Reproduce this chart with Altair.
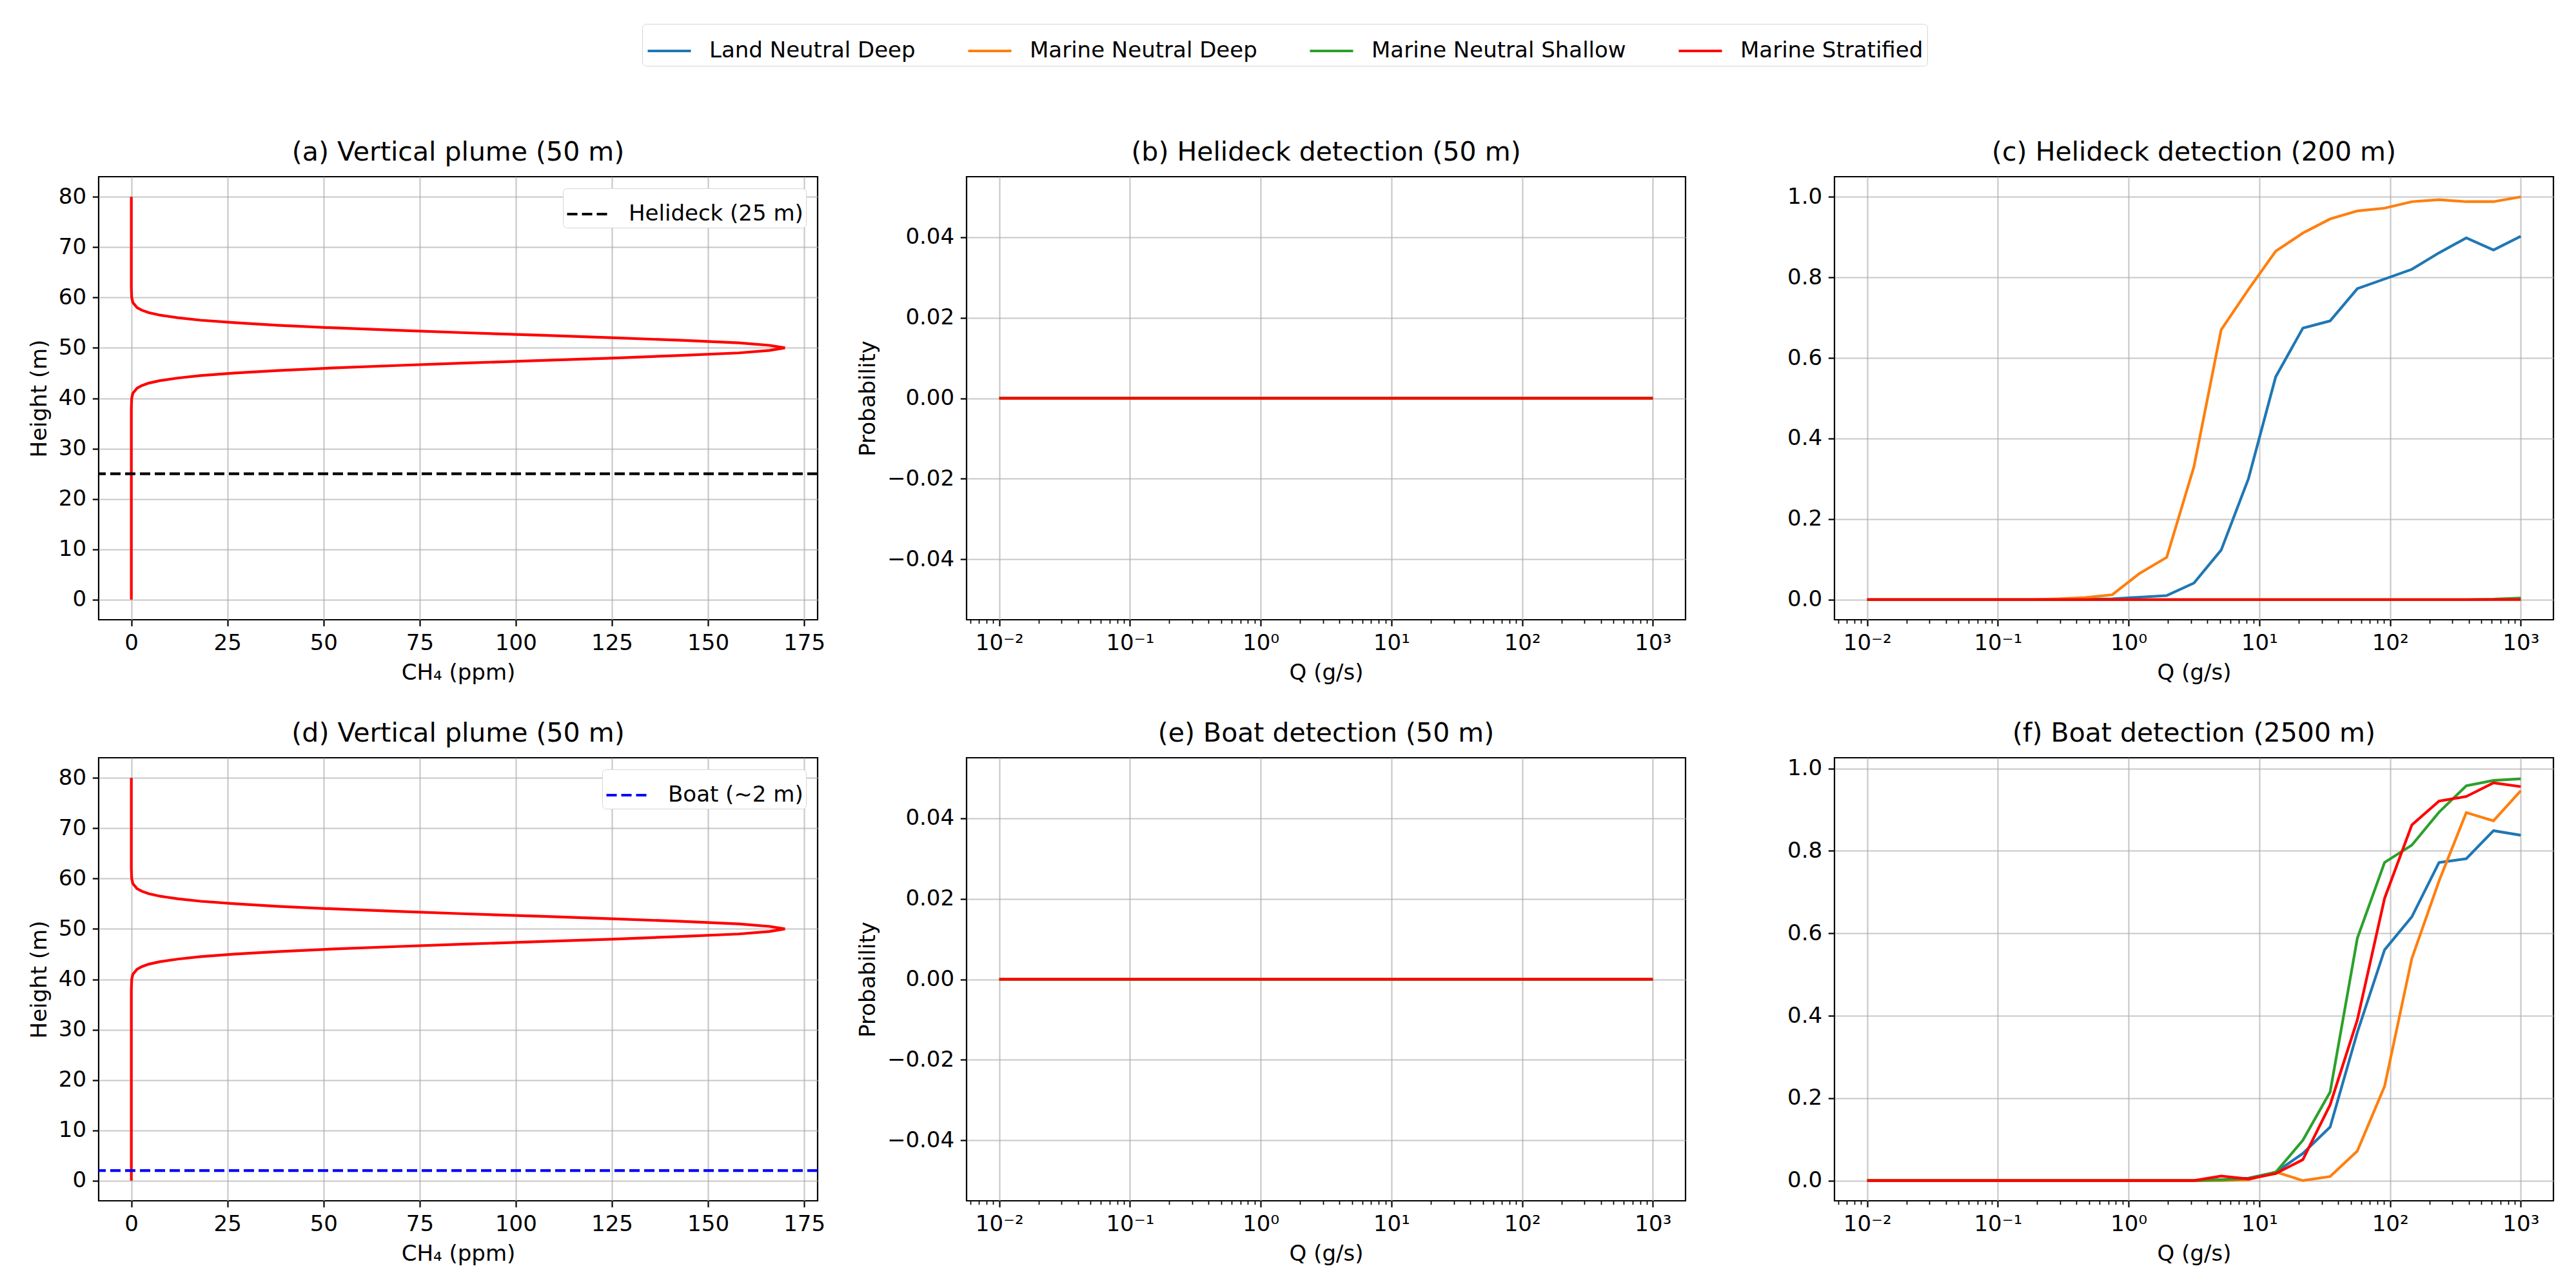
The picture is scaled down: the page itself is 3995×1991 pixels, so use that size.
import altair as alt
import pandas as pd

# emission rates Q (g/s), 25 log-spaced steps
Q = [0.01, 0.01616, 0.0261, 0.04217, 0.06813, 0.1101, 0.1778, 0.2873, 0.4642,
     0.7499, 1.212, 1.957, 3.162, 5.109, 8.254, 13.34, 21.54, 34.81, 56.23,
     90.85, 146.8, 237.1, 383.1, 618.9, 1000]

SCENARIOS = ["Land Neutral Deep", "Marine Neutral Deep",
             "Marine Neutral Shallow", "Marine Stratified"]
COLORS = ["#1f77b4", "#ff7f0e", "#2ca02c", "#ff0000"]

# (b) / (e): everything is zero
ZERO = [0.0] * 25

# (c) helideck detection at 200 m
HELI200_LAND = [0, 0, 0, 0, 0, 0, 0, 0, 0.001, 0.002, 0.006, 0.01, 0.041, 0.123,
                0.30, 0.553, 0.674, 0.692, 0.772, 0.796, 0.82, 0.861, 0.898, 0.868, 0.902]
HELI200_MDEEP = [0, 0, 0, 0, 0, 0, 0, 0.002, 0.005, 0.012, 0.065, 0.105, 0.33, 0.67,
                 0.77, 0.865, 0.91, 0.945, 0.965, 0.972, 0.988, 0.993, 0.988, 0.988, 1.0]
HELI200_MSHALLOW = [0, 0, 0, 0, 0, 0, 0, 0, 0, 0, 0, 0, 0, 0,
                    0, 0, 0, 0, 0, 0, 0, 0, 0, 0.001, 0.004]
HELI200_MSTRAT = [0.0] * 25

# (f) boat detection at 2500 m
BOAT2500_LAND = [0, 0, 0, 0, 0, 0, 0, 0, 0, 0, 0, 0, 0, 0.002, 0.006, 0.02, 0.066,
                 0.13, 0.36, 0.56, 0.64, 0.772, 0.781, 0.849, 0.838]
BOAT2500_MDEEP = [0, 0, 0, 0, 0, 0, 0, 0, 0, 0, 0, 0, 0, 0, 0.002, 0.021, 0.0,
                  0.01, 0.072, 0.229, 0.539, 0.727, 0.893, 0.873, 0.946]
BOAT2500_MSHALLOW = [0, 0, 0, 0, 0, 0, 0, 0, 0, 0, 0, 0, 0, 0.002, 0.005, 0.02, 0.098,
                     0.215, 0.588, 0.772, 0.814, 0.894, 0.958, 0.971, 0.975]
BOAT2500_MSTRAT = [0, 0, 0, 0, 0, 0, 0, 0, 0, 0, 0, 0, 0, 0.011, 0.004, 0.017, 0.051,
                   0.184, 0.39, 0.685, 0.863, 0.921, 0.932, 0.965, 0.956]

# vertical plume profile (a) / (d)
PLUME_HEIGHT = [0, 10, 20, 30, 38, 40, 41, 42, 42.5, 43, 43.5, 44, 44.5, 45, 45.5,
                46, 46.5, 47, 47.5, 48, 48.5, 49, 49.5, 50, 50.5, 51, 51.5, 52, 52.5,
                53, 53.5, 54, 54.5, 55, 55.5, 56, 56.5, 57, 57.5, 58, 59, 60, 62, 70, 80]
PLUME_CH4 = [0, 0, 0, 0, 0, 0.1, 0.4, 1.5, 2.7, 4.5, 7.5, 12, 18, 27, 38,
             52, 69, 87, 107, 126, 143, 158, 166, 170, 166, 158, 143, 126, 107,
             87, 69, 52, 38, 27, 18, 12, 7.5, 4.5, 2.7, 1.5, 0.4, 0.1, 0, 0, 0]

# axis ticks
LOG_MAJOR = [0.01, 0.1, 1, 10, 100, 1000]
LOG_LABELS = ["10⁻²", "10⁻¹", "10⁰", "10¹", "10²", "10³"]
LOG_MINOR = [0.006, 0.007, 0.008, 0.009,
             0.02, 0.03, 0.04, 0.05, 0.06, 0.07, 0.08, 0.09,
             0.2, 0.3, 0.4, 0.5, 0.6, 0.7, 0.8, 0.9,
             2, 3, 4, 5, 6, 7, 8, 9,
             20, 30, 40, 50, 60, 70, 80, 90,
             200, 300, 400, 500, 600, 700, 800, 900]
CH4_TICKS = [0, 25, 50, 75, 100, 125, 150, 175]
HEIGHT_TICKS = [0, 10, 20, 30, 40, 50, 60, 70, 80]
PROB_TICKS = [0.0, 0.2, 0.4, 0.6, 0.8, 1.0]
ZERO_TICKS = [-0.04, -0.02, 0.0, 0.02, 0.04]

W, H = 1115, 687
LW = 4.2
X_DOMAIN = [0.005623, 1778.3]

label_expr = " : ".join(
    f"datum.value == {v} ? '{lab}'" for v, lab in zip(LOG_MAJOR, LOG_LABELS)
) + " : ''"

# shared scenario legend, placed above the grid relative to panel (a)'s frame
top_legend = alt.Legend(orient="none", legendX=843, legendY=-237, direction="horizontal",
                        columns=4, title=None, symbolType="stroke", symbolSize=4489,
                        symbolStrokeWidth=LW, labelFontSize=34, labelOffset=26,
                        columnPadding=73, padding=6, strokeColor="#d6d6d6",
                        fillColor="white", cornerRadius=6, labelLimit=0)


def prob_df(series):
    rows = []
    for name, vals in zip(SCENARIOS, series):
        for q, p in zip(Q, vals):
            rows.append({"Q": q, "p": p, "scenario": name})
    return pd.DataFrame(rows)


def log_panel(series, title, ydomain, yticks, yfmt, ytitle):
    df = prob_df(series)
    xscale = alt.Scale(type="log", domain=X_DOMAIN, nice=False)
    lines = alt.Chart(df).mark_line(strokeWidth=LW).encode(
        x=alt.X("Q:Q", scale=xscale,
                axis=alt.Axis(values=LOG_MAJOR, labelExpr=label_expr, title="Q (g/s)",
                              orient="bottom", grid=True)),
        y=alt.Y("p:Q", scale=alt.Scale(domain=ydomain, nice=False, zero=False),
                axis=alt.Axis(values=yticks, format=yfmt, title=ytitle)),
        color=alt.Color("scenario:N", scale=alt.Scale(domain=SCENARIOS, range=COLORS),
                        legend=top_legend),
    )
    minor = alt.Chart(df).mark_point(opacity=0).encode(
        x=alt.X("Q:Q", scale=xscale,
                axis=alt.Axis(values=LOG_MINOR, labels=False, title=None, grid=False,
                              orient="bottom", tickSize=5.6, tickWidth=1.7)),
    )
    return alt.layer(lines, minor).resolve_axis(x="independent").properties(
        title=title, width=W, height=H)


def plume_panel(title, ref_label, ref_height, ref_color):
    plume = pd.DataFrame({"height": PLUME_HEIGHT, "ch4": PLUME_CH4})
    ref = pd.DataFrame({"height": [ref_height], "label": [ref_label]})
    yscale = alt.Scale(domain=[-4, 84], nice=False, zero=False)
    line = alt.Chart(plume).mark_line(color="red", strokeWidth=LW).encode(
        x=alt.X("ch4:Q", scale=alt.Scale(domain=[-8.5, 178.5], nice=False, zero=False),
                axis=alt.Axis(values=CH4_TICKS, title="CH₄ (ppm)")),
        y=alt.Y("height:Q", scale=yscale,
                axis=alt.Axis(values=HEIGHT_TICKS, title="Height (m)")),
        order=alt.Order("height:Q"),
    )
    rule = alt.Chart(ref).mark_rule(strokeWidth=LW, color=ref_color).encode(
        y=alt.Y("height:Q", scale=yscale),
        strokeDash=alt.StrokeDash(
            "label:N", scale=alt.Scale(range=[[16, 7]]),
            legend=alt.Legend(orient="top-right", offset=18, title=None,
                              symbolType="stroke", symbolSize=4489,
                              symbolStrokeWidth=LW, symbolStrokeColor=ref_color,
                              labelFontSize=34, labelOffset=26, padding=4,
                              strokeColor="#d6d6d6", fillColor="white",
                              cornerRadius=6, labelLimit=0)),
    )
    return alt.layer(line, rule).properties(title=title, width=W, height=H)


pa = plume_panel("(a) Vertical plume (50 m)", "Helideck (25 m)", 25, "black")
pb = log_panel([ZERO, ZERO, ZERO, ZERO], "(b) Helideck detection (50 m)",
               [-0.055, 0.055], ZERO_TICKS, ".2f", "Probability")
pc = log_panel([HELI200_LAND, HELI200_MDEEP, HELI200_MSHALLOW, HELI200_MSTRAT],
               "(c) Helideck detection (200 m)", [-0.05, 1.05], PROB_TICKS, ".1f", None)
pd_ = plume_panel("(d) Vertical plume (50 m)", "Boat (~2 m)", 2, "blue")
pe = log_panel([ZERO, ZERO, ZERO, ZERO], "(e) Boat detection (50 m)",
               [-0.055, 0.055], ZERO_TICKS, ".2f", "Probability")
pf = log_panel([BOAT2500_LAND, BOAT2500_MDEEP, BOAT2500_MSHALLOW, BOAT2500_MSTRAT],
               "(f) Boat detection (2500 m)", [-0.049, 1.026], PROB_TICKS, ".1f", None)

chart = alt.concat(
    pa, pb, pc, pd_, pe, pf, columns=3, bounds="flush",
    spacing={"row": 214, "column": 231},
).resolve_scale(
    strokeDash="independent"
).properties(
    padding={"left": 35, "top": 28, "right": 10, "bottom": 10}
).configure(
    font="DejaVu Sans"
).configure_view(
    stroke="black", strokeWidth=2.2
).configure_axis(
    labelFontSize=34, titleFontSize=34, titleFontWeight="normal",
    labelColor="black", titleColor="black", tickColor="black",
    tickSize=9.7, tickWidth=2.2, labelPadding=9.7, titlePadding=12,
    domain=False, gridColor="#b0b0b0", gridOpacity=0.7, gridWidth=2.2,
    labelFlush=False, labelOverlap=False,
).configure_title(
    fontSize=41, fontWeight="normal", color="black", offset=16, frame="group",
    anchor="middle",
).configure_legend(
    labelColor="black",
)

chart.save("out.html", embed_options={"renderer": "svg", "actions": False})
